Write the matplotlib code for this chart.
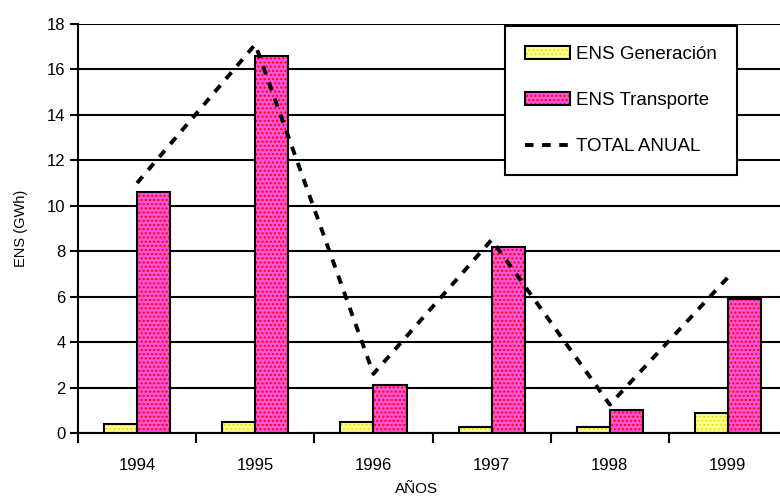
import numpy as np
import matplotlib.pyplot as plt
from matplotlib.legend_handler import HandlerTuple

plt.rcParams['font.family'] = ['Liberation Sans', 'DejaVu Sans']

# ---------- data ----------
years = ["1994", "1995", "1996", "1997", "1998", "1999"]
ens_generacion = [0.38, 0.5, 0.5, 0.28, 0.28, 0.9]
ens_transporte = [10.6, 16.6, 2.1, 8.2, 1.0, 5.9]
total_anual = [11.0, 17.1, 2.6, 8.5, 1.25, 6.85]

# ---------- figure ----------
fig = plt.figure(figsize=(7.8, 4.97), dpi=100)
ax = fig.add_axes([0.1, 0.1288, 0.909, 0.823])

x = np.arange(len(years))
w = 0.28

# bars: filled + hatched layer, then black outline on top
g_fill = ax.bar(x - w / 2, ens_generacion, w, color='#FFFF99', edgecolor='#E8E800',
                hatch='....', linewidth=0, zorder=3)
g_edge = ax.bar(x - w / 2, ens_generacion, w, fill=False, edgecolor='black',
                linewidth=1.5, zorder=4)
t_fill = ax.bar(x + w / 2, ens_transporte, w, color='#FF55DD', edgecolor='#FF0000',
                hatch='....', linewidth=0, zorder=3)
t_edge = ax.bar(x + w / 2, ens_transporte, w, fill=False, edgecolor='black',
                linewidth=1.5, zorder=4)

line, = ax.plot(x, total_anual, color='black', linewidth=2.8,
                linestyle=(0, (2.2, 2.2)), zorder=5)

# axes
ax.set_xlim(-0.5, len(years) - 0.5)
ax.set_ylim(0, 18)
ax.set_yticks(range(0, 19, 2))
ax.set_xticks(x)
ax.set_xticklabels(years)
ax.set_xticks(np.arange(-0.5, len(years), 1.0), minor=True)
ax.tick_params(axis='x', which='major', length=0, pad=18, labelsize=12)
ax.tick_params(axis='x', which='minor', length=7, width=1.5, direction='out')
ax.tick_params(axis='y', length=6, width=1.5, direction='out', labelsize=12, pad=3)

ax.grid(axis='y', color='black', linewidth=1.5, zorder=0)
ax.set_axisbelow(True)
for side in ['top', 'right']:
    ax.spines[side].set_visible(False)
for side in ['left', 'bottom']:
    ax.spines[side].set_linewidth(1.5)
    ax.spines[side].set_zorder(6)

ax.set_ylabel("ENS (GWh)", fontsize=10.5)
ax.yaxis.set_label_coords(-0.07, 0.5)
ax.set_xlabel("AÑOS", fontsize=11)
ax.xaxis.set_label_coords(0.478, -0.12)

leg = ax.legend([(g_fill, g_edge), (t_fill, t_edge), line],
                ["ENS Generación", "ENS Transporte", "TOTAL ANUAL"],
                handler_map={tuple: HandlerTuple(ndivide=1, pad=0)},
                loc='upper left', bbox_to_anchor=(0.602, 0.995),
                borderaxespad=0,
                frameon=True, fancybox=False, shadow=False,
                edgecolor='black', framealpha=1, fontsize=13.5,
                labelspacing=1.55, handlelength=2.4, handletextpad=0.35,
                borderpad=1.05)
leg.get_frame().set_linewidth(1.5)
leg.set_zorder(10)

fig.savefig("out.png", dpi=100)
